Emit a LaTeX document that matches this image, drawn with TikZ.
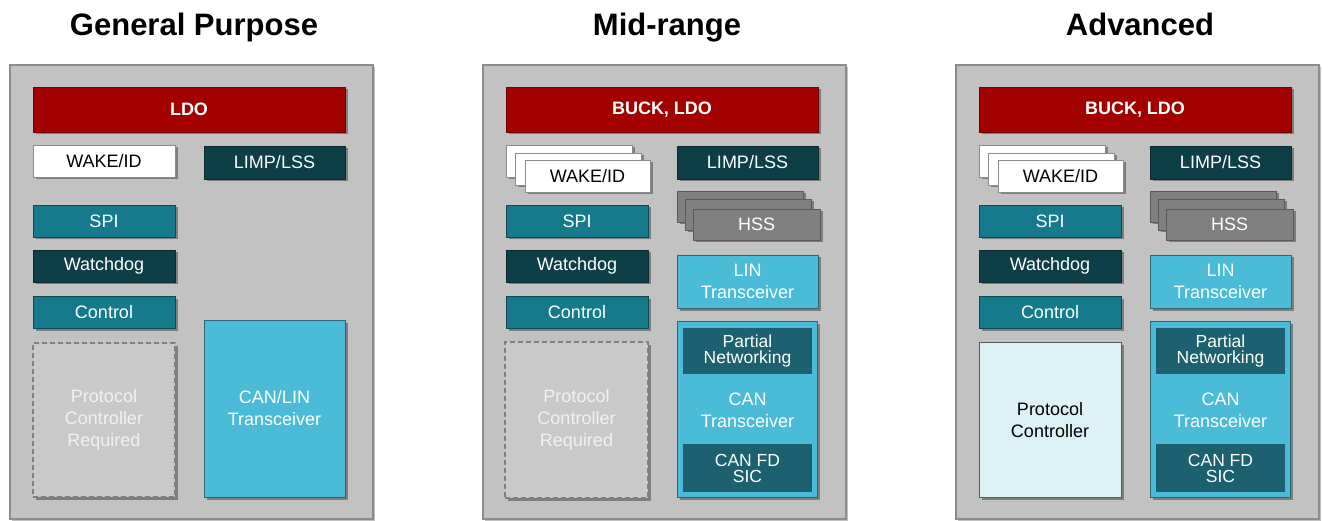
\documentclass[tikz,border=0pt]{standalone}
\usepackage{fontspec}
\setmainfont{Liberation Sans}
\usetikzlibrary{shadows}
\definecolor{tired}{HTML}{A30000}
\definecolor{tidark}{HTML}{0E3E48}
\definecolor{titeal}{HTML}{157B8C}
\definecolor{tilight}{HTML}{4BBCD7}
\definecolor{pndark}{HTML}{1D6171}
\definecolor{hssgray}{HTML}{808080}
\definecolor{reqgray}{HTML}{C9C9C9}
\definecolor{pcfill}{HTML}{DDF2F6}
\definecolor{panelfill}{HTML}{C2C2C2}
\definecolor{panelline}{HTML}{8C8C8C}
\newcommand\boxfont{\fontsize{18}{22}\selectfont}
\newcommand\boxfontb{\fontsize{18}{22}\selectfont\bfseries}
\newcommand\tightfont{\fontsize{17.5}{16}\selectfont}
\newcommand\titlefont{\fontsize{31}{36}\selectfont\bfseries}
\tikzset{
  base/.style={rectangle, inner sep=0pt, align=center, font=\boxfont, line width=0.8pt,
    drop shadow={shadow xshift=2.5pt, shadow yshift=-2.5pt, opacity=0.35, fill=black}},
  redblk/.style={base, fill=tired, draw=tired!70!black, text=white, font=\boxfontb},
  whiteblk/.style={base, fill=white, draw=black!45, text=black},
  darkblk/.style={base, fill=tidark, draw=tidark!70!black, text=white},
  tealblk/.style={base, fill=titeal, draw=titeal!60!black, text=white},
  lightblk/.style={base, fill=tilight, draw=tilight!55!black, text=white},
  grayblk/.style={base, fill=hssgray, draw=black!65, text=white},
  dashblk/.style={base, fill=reqgray, draw=black!50, dashed, dash pattern=on 5pt off 3pt, line width=1.4pt, text=white!90!gray},
  pcblk/.style={base, fill=pcfill, draw=black!65, text=black},
  inner/.style={rectangle, inner sep=0pt, align=center, fill=pndark, text=white, font=\tightfont},
  panel/.style={rectangle, fill=panelfill, draw=panelline, line width=1.2pt,
    drop shadow={shadow xshift=2pt, shadow yshift=-2pt, opacity=0.25, fill=black}},
  ttl/.style={anchor=base, font=\titlefont, text=black},
  smallw/.style={minimum width=142pt, minimum height=32pt},
  rightw/.style={minimum width=141pt, minimum height=33pt}
}
% common left column and top bar
\newcommand\commonblocks[2]{%
  \node[redblk, minimum width=312pt, minimum height=45pt] (#1pwr) at (189,109.5) {#2};
  \node[darkblk, rightw] (#1limp) at (274.5,162.5) {LIMP/LSS};
  \node[tealblk, smallw] (#1spi) at (104,221) {SPI};
  \node[darkblk, smallw] (#1wd) at (104,266) {Watchdog};
  \node[tealblk, smallw] (#1ctl) at (104,312) {Control};
}
% stacked WAKE/ID, HSS, LIN, CAN block (mid-range and advanced)
\newcommand\richblocks[1]{%
  \node[whiteblk, minimum width=126pt, minimum height=32pt] (#1wakeA) at (96,161) {};
  \node[whiteblk, minimum width=126pt, minimum height=32pt] (#1wakeB) at (105,169) {};
  \node[whiteblk, minimum width=125pt, minimum height=32pt] (#1wake) at (114.5,176) {WAKE/ID};
  \node[grayblk, minimum width=126pt, minimum height=31pt] (#1hssA) at (267,206.5) {};
  \node[grayblk, minimum width=126pt, minimum height=31pt] (#1hssB) at (275,214.5) {};
  \node[grayblk, minimum width=127pt, minimum height=31pt] (#1hss) at (283.5,224.5) {HSS};
  \node[lightblk, minimum width=141pt, minimum height=53pt] (#1lin) at (274.5,281.5) {LIN\\Transceiver};
  \node[lightblk, minimum width=140pt, minimum height=176pt] (#1can) at (274,409) {};
  \node[inner, minimum width=129pt, minimum height=46pt] (#1pn) at (274.5,351) {Partial\\Networking};
  \node[inner sep=0pt, align=center, text=white, font=\boxfont] (#1cant) at (274.5,410) {CAN\\Transceiver};
  \node[inner, minimum width=129pt, minimum height=48pt] (#1fd) at (274.5,468) {CAN FD\\SIC};
}
\begin{document}
\begin{tikzpicture}[x=1pt, y=-1pt]
\useasboundingbox (0,0) rectangle (1322,521);
\fill[white] (0,0) rectangle (1322,521);

% ---------- General Purpose ----------
\node[ttl] (t1) at (194,36) {General Purpose};
\node[panel, minimum width=363pt, minimum height=454pt] (pan1) at (191.5,292) {};
\commonblocks{a}{LDO}
\node[whiteblk, smallw] (awake) at (104,161) {WAKE/ID};
\node[dashblk, minimum width=142pt, minimum height=154pt] (areq) at (104,420) {Protocol\\Controller\\Required};
\node[lightblk, minimum width=141pt, minimum height=177pt] (acan) at (274.5,408.5) {CAN/LIN\\Transceiver};

% ---------- Mid-range ----------
\node[ttl] (t2) at (667,36) {Mid-range};
\begin{scope}[xshift=473pt]
\node[panel, minimum width=363pt, minimum height=454pt] (pan2) at (191.5,292) {};
\commonblocks{b}{BUCK, LDO}
\richblocks{b}
\node[dashblk, minimum width=143pt, minimum height=156pt] (breq) at (103.5,420) {Protocol\\Controller\\Required};
\end{scope}

% ---------- Advanced ----------
\node[ttl] (t3) at (1140,36) {Advanced};
\begin{scope}[xshift=946pt]
\node[panel, minimum width=363pt, minimum height=454pt] (pan3) at (191.5,292) {};
\commonblocks{c}{BUCK, LDO}
\richblocks{c}
\node[pcblk, minimum width=142pt, minimum height=155pt] (cpc) at (104,420) {Protocol\\Controller};
\end{scope}
\end{tikzpicture}
\end{document}
